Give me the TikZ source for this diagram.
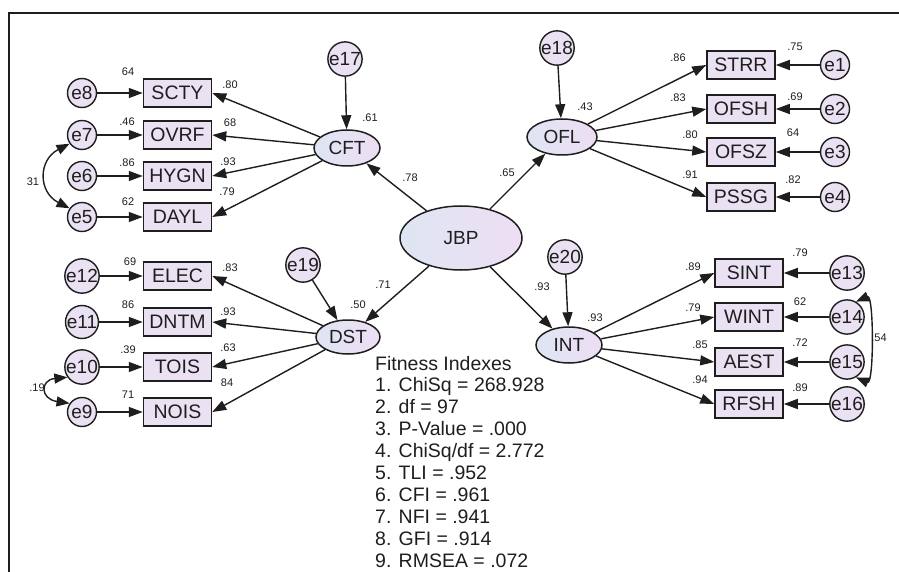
\documentclass[tikz,border=0pt]{standalone}
\usepackage{fontspec}
\setmainfont{Liberation Sans}
\usetikzlibrary{arrows.meta,shapes.geometric}
\definecolor{lav}{RGB}{234,225,243}
\definecolor{lavR}{RGB}{238,222,243}
\definecolor{lavL}{RGB}{222,229,243}
\definecolor{ink}{RGB}{30,30,30}
\begin{document}
\begin{tikzpicture}[x=1pt,y=-1pt,
  obs/.style={draw=ink, line width=1.5pt, fill=lav, minimum width=68pt, minimum height=28pt, inner sep=0pt, text=ink, font=\fontsize{19.5}{19.5}\selectfont},
  err/.style={circle, draw=ink, line width=1.4pt, fill=lav, minimum size=29pt, inner sep=0pt, text=ink, font=\fontsize{19}{19}\selectfont},
  lat/.style={ellipse, draw=ink, line width=1.5pt, left color=lavL, right color=lavR, inner sep=0pt, text=ink, font=\fontsize{19}{19}\selectfont},
  lab/.style={inner sep=0pt, text=ink, font=\fontsize{11}{11}\selectfont},
  fitline/.style={inner sep=0pt, anchor=base west, text=ink, font=\fontsize{19.5}{19.5}\selectfont},
  path/.style={draw=ink, line width=1.4pt, -{Triangle[length=14pt,width=10pt]}},
  cov/.style={draw=ink, line width=1.4pt, {Triangle[length=13pt,width=10pt]}-{Triangle[length=13pt,width=10pt]}}
]
\useasboundingbox (0,0) rectangle (899,572);
\draw[line width=1.6pt, ink] (9,572) -- (9,13) -- (899,13);

% latent variables
\node[lat, minimum width=122pt, minimum height=64pt] (JBP) at (461,238) {JBP};
\node[lat, minimum width=66pt, minimum height=36pt] (CFT) at (347,148) {CFT};
\node[lat, minimum width=70pt, minimum height=36pt] (OFL) at (562,137) {OFL};
\node[lat, minimum width=64pt, minimum height=34pt] (DST) at (348,337) {DST};
\node[lat, minimum width=66pt, minimum height=36pt] (INT) at (569,345) {INT};

% disturbances
\node[err] (e17) at (345,59) {e17};
\node[err] (e18) at (557,48) {e18};
\node[err] (e19) at (303,265) {e19};
\node[err] (e20) at (565,257) {e20};

% left observed
\foreach \b/\e/\y in {SCTY/e8/93, OVRF/e7/135, HYGN/e6/176, DAYL/e5/217, ELEC/e12/276, DNTM/e11/322, TOIS/e10/367, NOIS/e9/412}{
  \node[obs] (\b) at (177.5,\y) {\b};
  \node[err] (\e) at (82,\y) {\e};
}
% right observed
\foreach \b/\e/\y in {STRR/e1/65, OFSH/e2/109, OFSZ/e3/152, PSSG/e4/197}{
  \node[obs] (\b) at (741,\y) {\b};
  \node[err] (\e) at (835,\y) {\e};
}
\foreach \b/\e/\y in {SINT/e13/273, WINT/e14/317, AEST/e15/362, RFSH/e16/404}{
  \node[obs] (\b) at (749,\y) {\b};
  \node[err] (\e) at (847,\y) {\e};
}

% paths
\foreach \e/\b in {e8/SCTY, e7/OVRF, e6/HYGN, e5/DAYL, e12/ELEC, e11/DNTM, e10/TOIS, e9/NOIS, e1/STRR, e2/OFSH, e3/OFSZ, e4/PSSG, e13/SINT, e14/WINT, e15/AEST, e16/RFSH}
  \draw[path] (\e) -- (\b);
\foreach \b in {SCTY, OVRF, HYGN, DAYL} \draw[path] (CFT) -- (\b.east);
\foreach \b in {ELEC, DNTM, TOIS, NOIS} \draw[path] (DST) -- (\b.east);
\foreach \b in {STRR, OFSH, OFSZ, PSSG} \draw[path] (OFL) -- (\b.west);
\foreach \b in {SINT, WINT, AEST, RFSH} \draw[path] (INT) -- (\b.west);
\foreach \l in {CFT, OFL, DST, INT} \draw[path] (JBP) -- (\l);
\draw[path] (e17) -- (CFT);
\draw[path] (e18) -- (OFL);
\draw[path] (e19) -- (DST);
\draw[path] (e20) -- (INT);

% covariances
\draw[cov] (e7.215) .. controls (38,160) and (38,192) .. (e5.145);
\draw[cov] (e10.215) .. controls (40,380) and (40,399) .. (e9.145);
\draw[cov] (e14.60) .. controls (874,294) and (874,385) .. (e15.-60);

% coefficient labels
\foreach \x/\y/\t [count=\i] in {
  128/72/64, 230/85/.80, 127/122/.46, 230/123/68, 127/163/.86, 228/162/.93, 128/202/62, 227/192/.79, 33/182/31,
  130/262/69, 230/268/.83, 128/305/86, 228/312/.93, 128/350/.39, 228/348/.63, 227/383/84, 128/395/71, 37/388/.19,
  370/118/.61, 410/178/.78, 585/107/.43, 507/173/.65, 358/305/.50, 383/285/.71, 542/287/.93, 595/318/.93,
  678/58/.86, 795/47/.75, 678/98/.83, 795/97/.69, 690/135/.80, 793/133/64, 690/175/.91, 793/180/.82,
  693/267/.89, 800/253/.79, 693/308/.79, 800/302/62, 700/345/.85, 800/343/.72, 700/380/.94, 800/388/.89, 879/338/.54}
  \node[lab] (lab\i) at (\x,\y) {\t};

% fitness indexes
\foreach \t [count=\i] in {Fitness Indexes, 1. ChiSq = 268.928, 2. df = 97, 3. P-Value = .000, 4. ChiSq/df = 2.772, 5. TLI = .952, 6. CFI = .961, 7. NFI = .941, 8. GFI = .914, 9. RMSEA = .072}
  \node[fitline] (fit\i) at (375,{370+21.9*(\i-1)}) {\t};
\end{tikzpicture}
\end{document}
